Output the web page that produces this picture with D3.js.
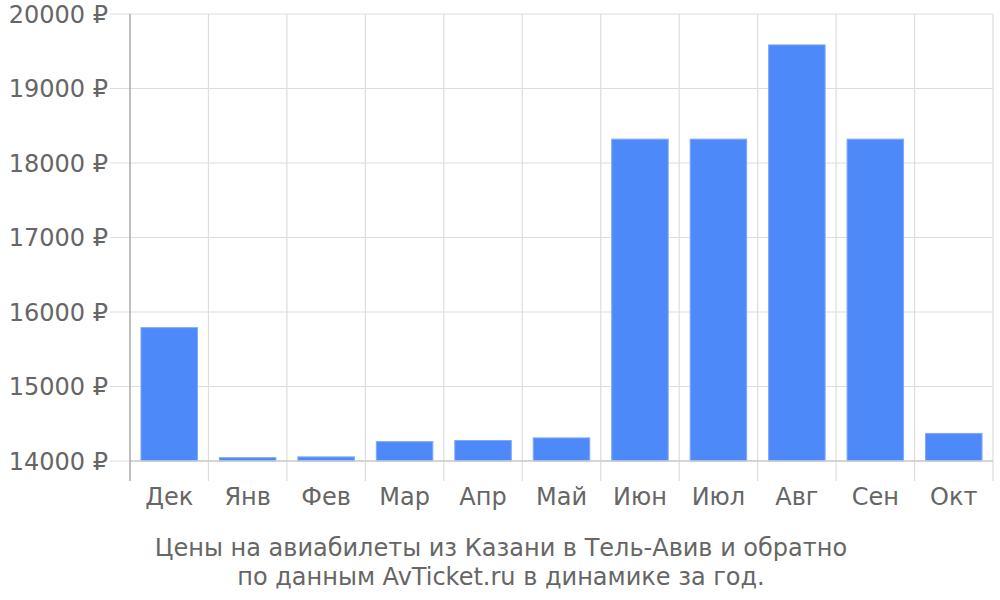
<!DOCTYPE html>
<html><head><meta charset="utf-8">
<script src="https://cdn.jsdelivr.net/npm/d3@7"></script>
<style>body{margin:0;background:#fff}svg{display:block}</style>
</head><body>
<svg id="c" width="1000" height="600"></svg>
<script>
const categories = ["Дек","Янв","Фев","Мар","Апр","Май","Июн","Июл","Авг","Сен","Окт"];
const prices = [15790, 14045, 14055, 14260, 14275, 14310, 18320, 18320, 19585, 18320, 14370];
const yTicks = [14000, 15000, 16000, 17000, 18000, 19000, 20000];
const titleLines = ["Цены на авиабилеты из Казани в Тель-Авив и обратно", "по данным AvTicket.ru в динамике за год."];

const svg = d3.select("#c");
const L = 130, R = 993, T = 14, B = 461;
const x = d3.scaleBand().domain(categories).range([L, R]).paddingInner(0.28).paddingOuter(0.14);
const xg = d3.scaleBand().domain(categories).range([L, R]);
const y = d3.scaleLinear().domain([14000, 20000]).range([B, T]);
const font = "DejaVu Sans, sans-serif";

// horizontal grid
svg.append("g").selectAll("line").data(yTicks).join("line")
  .attr("x1", 110).attr("x2", R).attr("y1", d => y(d)).attr("y2", d => y(d))
  .attr("stroke", "#dddddd").attr("stroke-width", 1.2);
// vertical grid
const vx = categories.map(c => xg(c)).concat([R]);
svg.append("g").selectAll("line").data(vx.slice(1)).join("line")
  .attr("x1", d => d).attr("x2", d => d).attr("y1", T).attr("y2", 481)
  .attr("stroke", "#dddddd").attr("stroke-width", 1.2);

// bars
svg.append("g").selectAll("rect").data(prices).join("rect")
  .attr("x", (d, i) => x(categories[i]))
  .attr("width", x.bandwidth())
  .attr("y", d => y(d))
  .attr("height", d => B - y(d))
  .attr("fill", "#4d89f9").attr("stroke", "#7ea8fa").attr("stroke-width", 1);

// bottom axis line
svg.append("line").attr("x1", L).attr("x2", R).attr("y1", B).attr("y2", B)
  .attr("stroke", "#cccccc").attr("stroke-width", 1.5);
// left axis line
svg.append("line").attr("x1", L).attr("x2", L).attr("y1", T).attr("y2", 481)
  .attr("stroke", "#aaaaaa").attr("stroke-width", 1.5);

// y labels
svg.append("g").selectAll("text").data(yTicks).join("text")
  .attr("x", 108).attr("y", d => y(d) + 8.5)
  .attr("text-anchor", "end").attr("font-family", font).attr("font-size", 24).attr("fill", "#666")
  .text(d => d + " ₽");

// x labels
svg.append("g").selectAll("text").data(categories).join("text")
  .attr("x", d => xg(d) + xg.bandwidth() / 2).attr("y", 505)
  .attr("text-anchor", "middle").attr("font-family", font).attr("font-size", 24).attr("fill", "#666")
  .text(d => d);

// title
svg.append("g").selectAll("text").data(titleLines).join("text")
  .attr("x", 501).attr("y", (d, i) => 556 + i * 29)
  .attr("text-anchor", "middle").attr("font-family", font).attr("font-size", 24).attr("fill", "#666")
  .text(d => d);
</script>
</body></html>
